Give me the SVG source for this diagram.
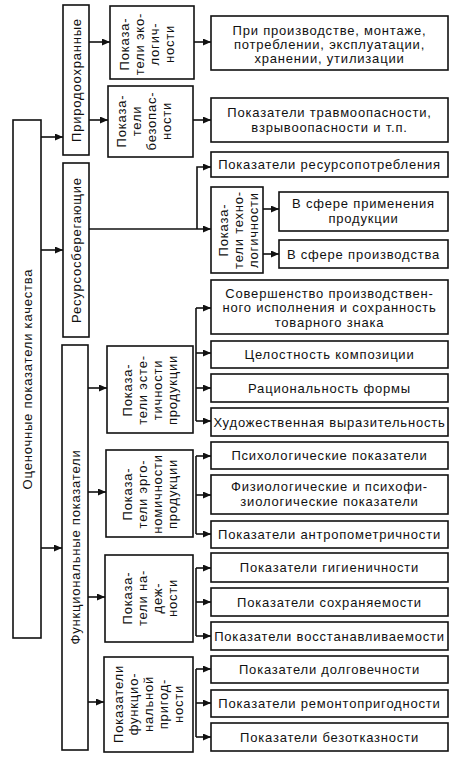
<svg xmlns="http://www.w3.org/2000/svg" width="460" height="758" viewBox="0 0 460 758">
<style>
.b{fill:#fff;stroke:#111;stroke-width:1.6}
.t{font-family:"Liberation Sans",Arial,sans-serif;font-size:13px;letter-spacing:0.8px;fill:#111;text-anchor:middle}
.c{fill:none;stroke:#111;stroke-width:1.6}
</style>
<defs>
<marker id="ah" markerUnits="userSpaceOnUse" markerWidth="9" markerHeight="8" refX="8" refY="3.5" orient="auto">
<path d="M0,0 L8,3.5 L0,7 z" fill="#111"/>
</marker>
</defs>
<rect width="460" height="758" fill="#fff"/>

<g id="connectors">
<path class="c" marker-end="url(#ah)" d="M41,137 H63"/>
<path class="c" marker-end="url(#ah)" d="M41,250 H63"/>
<path class="c" marker-end="url(#ah)" d="M41,548 H62"/>
<path class="c" marker-end="url(#ah)" d="M89,42 H110"/>
<path class="c" marker-end="url(#ah)" d="M89,120 H108"/>
<path class="c" marker-end="url(#ah)" d="M194,42 H211"/>
<path class="c" marker-end="url(#ah)" d="M193,120 H211"/>
<path class="c" marker-end="url(#ah)" d="M89,229 H211"/>
<path class="c" marker-end="url(#ah)" d="M197,229 V167 H211"/>
<path class="c" marker-end="url(#ah)" d="M263,209 H279"/>
<path class="c" marker-end="url(#ah)" d="M263,254 H279"/>
<path class="c" marker-end="url(#ah)" d="M88,388 H107"/>
<path class="c" marker-end="url(#ah)" d="M88,492 H106"/>
<path class="c" marker-end="url(#ah)" d="M88,597 H105"/>
<path class="c" marker-end="url(#ah)" d="M88,702 H104"/>
<path class="c" d="M196,308 V421"/>
<path class="c" d="M196,456 V534"/>
<path class="c" d="M196,568 V636"/>
<path class="c" d="M196,669 V737"/>
<path class="c" marker-end="url(#ah)" d="M196,308 H211"/>
<path class="c" marker-end="url(#ah)" d="M196,353 H211"/>
<path class="c" marker-end="url(#ah)" d="M196,388 H211"/>
<path class="c" marker-end="url(#ah)" d="M196,421 H211"/>
<path class="c" marker-end="url(#ah)" d="M196,456 H211"/>
<path class="c" marker-end="url(#ah)" d="M196,495 H211"/>
<path class="c" marker-end="url(#ah)" d="M196,534 H211"/>
<path class="c" marker-end="url(#ah)" d="M196,568 H211"/>
<path class="c" marker-end="url(#ah)" d="M196,602 H211"/>
<path class="c" marker-end="url(#ah)" d="M196,636 H211"/>
<path class="c" marker-end="url(#ah)" d="M196,669 H211"/>
<path class="c" marker-end="url(#ah)" d="M196,703 H211"/>
<path class="c" marker-end="url(#ah)" d="M196,737 H211"/>
</g>

<g id="root">
<rect class="b" x="13" y="120" width="28" height="518"/>
<text class="t" transform="translate(27,379) rotate(-90)" x="0" y="4.5">Оценочные показатели качества</text>
</g>

<g id="prirodo">
<rect class="b" x="63" y="5" width="26" height="150"/>
<text class="t" transform="translate(76,80) rotate(-90)" x="0" y="4.5">Природоохранные</text>
</g>
<g id="resurs">
<rect class="b" x="63" y="163" width="26" height="174"/>
<text class="t" transform="translate(76,250) rotate(-90)" x="0" y="4.5">Ресурсосберегающие</text>
</g>
<g id="funkc">
<rect class="b" x="62" y="345" width="26" height="405"/>
<text class="t" transform="translate(75,547) rotate(-90)" x="0" y="4.5">Функциональные показатели</text>
</g>

<g id="ekolog">
<rect class="b" x="110" y="6" width="84" height="73"/>
<text class="t" transform="translate(147,44) rotate(-90)"><tspan x="0" y="-18">Показа-</tspan><tspan x="0" y="-3">тели эко-</tspan><tspan x="0" y="12">логич-</tspan><tspan x="0" y="27">ности</tspan></text>
</g>
<g id="bezopas">
<rect class="b" x="108" y="86" width="85" height="71"/>
<text class="t" transform="translate(144,121) rotate(-90)"><tspan x="0" y="-18">Показа-</tspan><tspan x="0" y="-3">тели</tspan><tspan x="0" y="12">безопас-</tspan><tspan x="0" y="27">ности</tspan></text>
</g>

<g id="pri-proizv">
<rect class="b" x="211" y="16" width="237" height="54"/>
<text class="t"><tspan x="329.5" y="34.5">При производстве, монтаже,</tspan><tspan x="329.5" y="48.5">потреблении, эксплуатации,</tspan><tspan x="329.5" y="62.5">хранении, утилизации</tspan></text>
</g>
<g id="travmo">
<rect class="b" x="211" y="98" width="237" height="44"/>
<text class="t"><tspan x="329.5" y="117">Показатели травмоопасности,</tspan><tspan x="329.5" y="132">взрывоопасности и т.п.</tspan></text>
</g>
<g id="resurspotr">
<rect class="b" x="211" y="152" width="237" height="25"/>
<text class="t" x="329.5" y="169">Показатели ресурсопотребления</text>
</g>
<g id="tehnolog">
<rect class="b" x="211" y="187" width="52" height="86"/>
<text class="t" transform="translate(238,230) rotate(-90)"><tspan x="0" y="-10.5">Показа-</tspan><tspan x="0" y="4.5">тели техно-</tspan><tspan x="0" y="19.5">логичности</tspan></text>
</g>
<g id="sfera-prim">
<rect class="b" x="279" y="192" width="169" height="39"/>
<text class="t"><tspan x="363.5" y="208">В сфере применения</tspan><tspan x="363.5" y="223">продукции</tspan></text>
</g>
<g id="sfera-proizv">
<rect class="b" x="279" y="240" width="169" height="28"/>
<text class="t" x="363.5" y="258.5">В сфере производства</text>
</g>

<g id="estet">
<rect class="b" x="107" y="346" width="86" height="87"/>
<text class="t" transform="translate(150,390) rotate(-90)"><tspan x="0" y="-18">Показа-</tspan><tspan x="0" y="-3">тели эсте-</tspan><tspan x="0" y="12">тичности</tspan><tspan x="0" y="27">продукции</tspan></text>
</g>
<g id="ergon">
<rect class="b" x="106" y="450" width="87" height="87"/>
<text class="t" transform="translate(150,494) rotate(-90)"><tspan x="0" y="-18">Показа-</tspan><tspan x="0" y="-3">тели эрго-</tspan><tspan x="0" y="12">номичности</tspan><tspan x="0" y="27">продукции</tspan></text>
</g>
<g id="nadezh">
<rect class="b" x="105" y="555" width="88" height="87"/>
<text class="t" transform="translate(150,598) rotate(-90)"><tspan x="0" y="-18">Показа-</tspan><tspan x="0" y="-3">тели на-</tspan><tspan x="0" y="12">деж-</tspan><tspan x="0" y="27">ности</tspan></text>
</g>
<g id="prigod">
<rect class="b" x="104" y="657" width="89" height="95"/>
<text class="t" transform="translate(148,704) rotate(-90)"><tspan x="0" y="-25.5">Показатели</tspan><tspan x="0" y="-10.5">функцио-</tspan><tspan x="0" y="4.5">нальной</tspan><tspan x="0" y="19.5">пригод-</tspan><tspan x="0" y="34.5">ности</tspan></text>
</g>

<g id="sovershenstvo">
<rect class="b" x="211" y="280" width="237" height="54"/>
<text class="t"><tspan x="329.5" y="297.5">Совершенство производствен-</tspan><tspan x="329.5" y="312">ного исполнения и сохранность</tspan><tspan x="329.5" y="326.5">товарного знака</tspan></text>
</g>
<g id="celostnost">
<rect class="b" x="211" y="341" width="237" height="27"/>
<text class="t" x="329.5" y="359">Целостность композиции</text>
</g>
<g id="racion">
<rect class="b" x="211" y="374" width="237" height="28"/>
<text class="t" x="329.5" y="392.5">Рациональность формы</text>
</g>
<g id="hudozh">
<rect class="b" x="211" y="408" width="237" height="28"/>
<text class="t" x="329.5" y="426.5">Художественная выразительность</text>
</g>
<g id="psiholog">
<rect class="b" x="211" y="442" width="237" height="27"/>
<text class="t" x="329.5" y="460">Психологические показатели</text>
</g>
<g id="fiziolog">
<rect class="b" x="211" y="475" width="237" height="39"/>
<text class="t"><tspan x="329.5" y="491">Физиологические и психофи-</tspan><tspan x="329.5" y="506">зиологические показатели</tspan></text>
</g>
<g id="antropo">
<rect class="b" x="211" y="521" width="237" height="27"/>
<text class="t" x="329.5" y="539">Показатели антропометричности</text>
</g>
<g id="gigien">
<rect class="b" x="211" y="553" width="237" height="29"/>
<text class="t" x="329.5" y="572">Показатели гигиеничности</text>
</g>
<g id="sohran">
<rect class="b" x="211" y="588" width="237" height="28"/>
<text class="t" x="329.5" y="606.5">Показатели сохраняемости</text>
</g>
<g id="vosstan">
<rect class="b" x="211" y="622" width="237" height="28"/>
<text class="t" x="329.5" y="640.5">Показатели восстанавливаемости</text>
</g>
<g id="dolgov">
<rect class="b" x="211" y="656" width="237" height="27"/>
<text class="t" x="329.5" y="674">Показатели долговечности</text>
</g>
<g id="remont">
<rect class="b" x="211" y="690" width="237" height="27"/>
<text class="t" x="329.5" y="708">Показатели ремонтопригодности</text>
</g>
<g id="bezotkaz">
<rect class="b" x="211" y="723" width="237" height="28"/>
<text class="t" x="329.5" y="741.5">Показатели безотказности</text>
</g>
</svg>
